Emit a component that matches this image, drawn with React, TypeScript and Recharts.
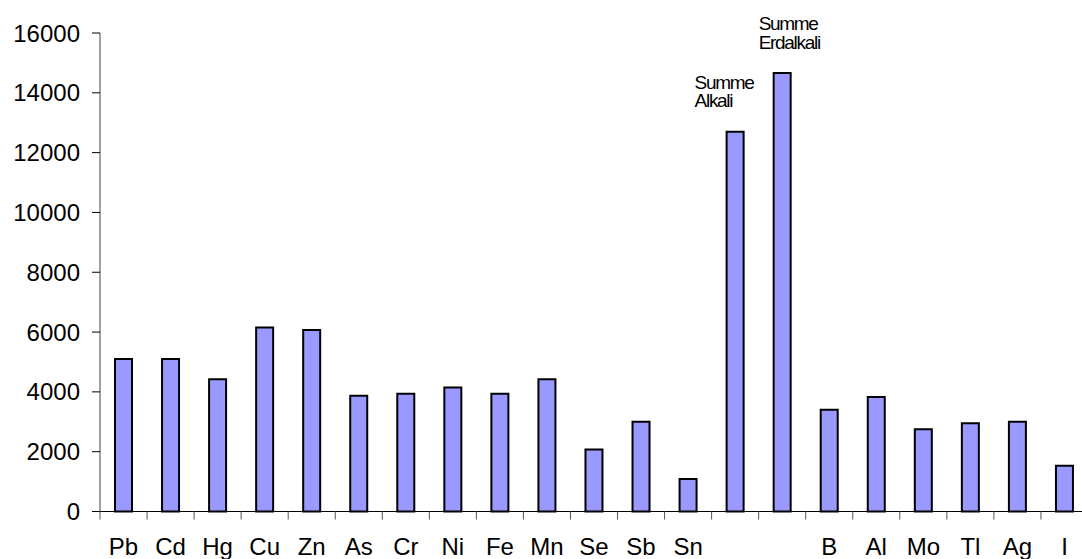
import { BarChart, Bar, XAxis, YAxis, LabelList } from "recharts";

// element names along the x axis (the two sums carry no axis label)
const elements = [
  "Pb", "Cd", "Hg", "Cu", "Zn", "As", "Cr", "Ni", "Fe", "Mn", "Se", "Sb", "Sn",
  "Summe Alkali", "Summe Erdalkali",
  "B", "Al", "Mo", "Tl", "Ag", "I",
];
const axisNames = [
  "Pb", "Cd", "Hg", "Cu", "Zn", "As", "Cr", "Ni", "Fe", "Mn", "Se", "Sb", "Sn",
  "", "",
  "B", "Al", "Mo", "Tl", "Ag", "I",
];
const amounts = [
  5100, 5100, 4420, 6150, 6070, 3870, 3940, 4150, 3940, 4420, 2070, 3000, 1090,
  12700, 14660,
  3400, 3830, 2750, 2950, 3000, 1530,
];
const barNotes = [
  null, null, null, null, null, null, null, null, null, null, null, null, null,
  ["Summe", "Alkali"], ["Summe", "Erdalkali"],
  null, null, null, null, null, null,
];
const yTicks = [0, 2000, 4000, 6000, 8000, 10000, 12000, 14000, 16000];

const data = elements.map((el, i) => ({
  el,
  axis: axisNames[i],
  value: amounts[i],
  note: barNotes[i],
}));

const CHART_W = 1090;
const CHART_H = 559;
const Y_W = 100;
const MARGIN_R = 2;
const band = (CHART_W - Y_W - MARGIN_R) / elements.length;
const font = "'Liberation Sans', Arial, sans-serif";

const CategoryTick = (props: any) => {
  const { x, y, payload, index } = props;
  const left = x - band / 2;
  return (
    <g>
      <line x1={left} y1={y} x2={left} y2={y + 8} stroke="#555" strokeWidth={1} />
      {index === elements.length - 1 && (
        <line x1={x + band / 2} y1={y} x2={x + band / 2} y2={y + 8} stroke="#555" />
      )}
      <text x={x} y={y + 43.5} textAnchor="middle" fontSize={24} fontFamily={font} fill="#000">
        {data[payload.index ?? index]?.axis ?? ""}
      </text>
    </g>
  );
};

// per-bar horizontal shift of the note text relative to the bar's left edge
const noteShift: Record<number, number> = { 13: -32, 14: -15 };

const NoteLabel = (props: any) => {
  const { x, y, index } = props;
  const lines = barNotes[index];
  if (!lines) return null;
  const tx = x + (noteShift[index] ?? 0);
  return (
    <text fontSize={19} fontFamily={font} fill="#000" letterSpacing={-1.3}>
      {lines.map((ln, i) => (
        <tspan key={i} x={tx} y={y - 43 + i * 18.5}>
          {ln}
        </tspan>
      ))}
    </text>
  );
};

export default function App() {
  return (
    <div
      style={{
        position: "fixed",
        left: 0,
        top: 0,
        width: 1082,
        height: 559,
        overflow: "hidden",
        background: "#fff",
      }}
    >
      <BarChart
        width={CHART_W}
        height={CHART_H}
        data={data}
        margin={{ top: 33, right: MARGIN_R, left: 0, bottom: 0 }}
        barCategoryGap="0%"
      >
        <XAxis
          dataKey="el"
          height={47.5}
          interval={0}
          axisLine={{ stroke: "#000", strokeWidth: 1 }}
          tickLine={false}
          tickSize={0}
          tickMargin={0}
          tick={<CategoryTick />}
        />
        <YAxis
          width={Y_W}
          domain={[0, 16000]}
          ticks={yTicks}
          interval={0}
          axisLine={{ stroke: "#808080", strokeWidth: 1.5 }}
          tickLine={{ stroke: "#000" }}
          tickSize={8}
          tickMargin={12}
          tick={{ fontSize: 24, fontFamily: font, fill: "#000" }}
        />
        <Bar
          dataKey="value"
          fill="#9999FF"
          stroke="#000"
          strokeWidth={2}
          barSize={17}
          isAnimationActive={false}
        >
          <LabelList dataKey="value" content={<NoteLabel />} />
        </Bar>
      </BarChart>
    </div>
  );
}
